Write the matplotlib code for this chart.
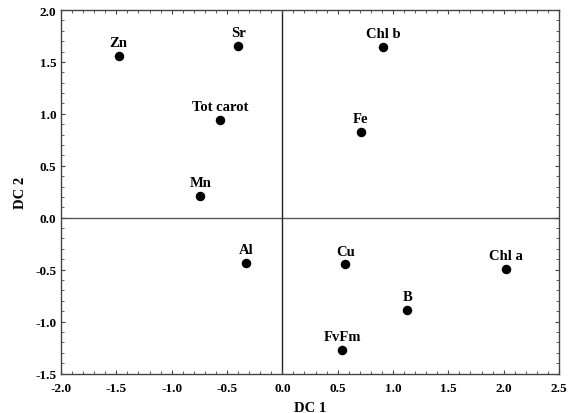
import matplotlib
matplotlib.use("Agg")
import matplotlib.pyplot as plt
from matplotlib.ticker import MultipleLocator, AutoMinorLocator

# Datos
etiquetas = ["Zn", "Sr", "Tot carot", "Mn", "Al", "Chl b", "Fe", "Cu", "Chl a", "B", "FvFm"]
dc1 = [-1.48, -0.40, -0.56, -0.74, -0.33, 0.91, 0.71, 0.57, 2.02, 1.13, 0.54]
dc2 = [1.56, 1.65, 0.94, 0.21, -0.44, 1.64, 0.83, -0.45, -0.49, -0.89, -1.27]

plt.rcParams['font.family'] = ['Liberation Serif', 'DejaVu Serif']
plt.rcParams['font.weight'] = 'bold'

fig = plt.figure(figsize=(5.69, 4.14), dpi=100)
ax = fig.add_axes([61/569, 1 - 374.5/414, (559-61)/569, (374.5-11)/414])

ax.axhline(0, color='#555555', lw=1.0, zorder=1)
ax.axvline(0, color='#222222', lw=1.0, zorder=1)

ax.scatter(dc1, dc2, s=34, color='black', zorder=3)
for nombre, x, y in zip(etiquetas, dc1, dc2):
    ax.annotate(nombre, (x, y), xytext=(0, 5), textcoords='offset points',
                ha='center', va='bottom', fontsize=10.5, fontweight='bold')

ax.set_xlim(-2.0, 2.5)
ax.set_ylim(-1.5, 2.0)
ax.xaxis.set_major_locator(MultipleLocator(0.5))
ax.yaxis.set_major_locator(MultipleLocator(0.5))
ax.xaxis.set_minor_locator(AutoMinorLocator(5))
ax.yaxis.set_minor_locator(AutoMinorLocator(5))
ax.tick_params(which='both', direction='in', top=True, right=True,
               labelsize=9.5, color='#444444')
ax.tick_params(which='major', length=3)
ax.tick_params(which='minor', length=2)
ax.tick_params(axis='x', pad=6)
ax.set_xticklabels([f"{v:.1f}" for v in ax.get_xticks()], fontweight='bold')
ax.set_yticklabels([f"{v:.1f}" for v in ax.get_yticks()], fontweight='bold')

for s in ax.spines.values():
    s.set_color('#444444')
    s.set_linewidth(1.0)

ax.set_xlabel("DC 1", fontsize=10.5, fontweight='bold', labelpad=5)
ax.set_ylabel("DC 2", fontsize=10.5, fontweight='bold', labelpad=6)

fig.savefig("out.png", dpi=100)
